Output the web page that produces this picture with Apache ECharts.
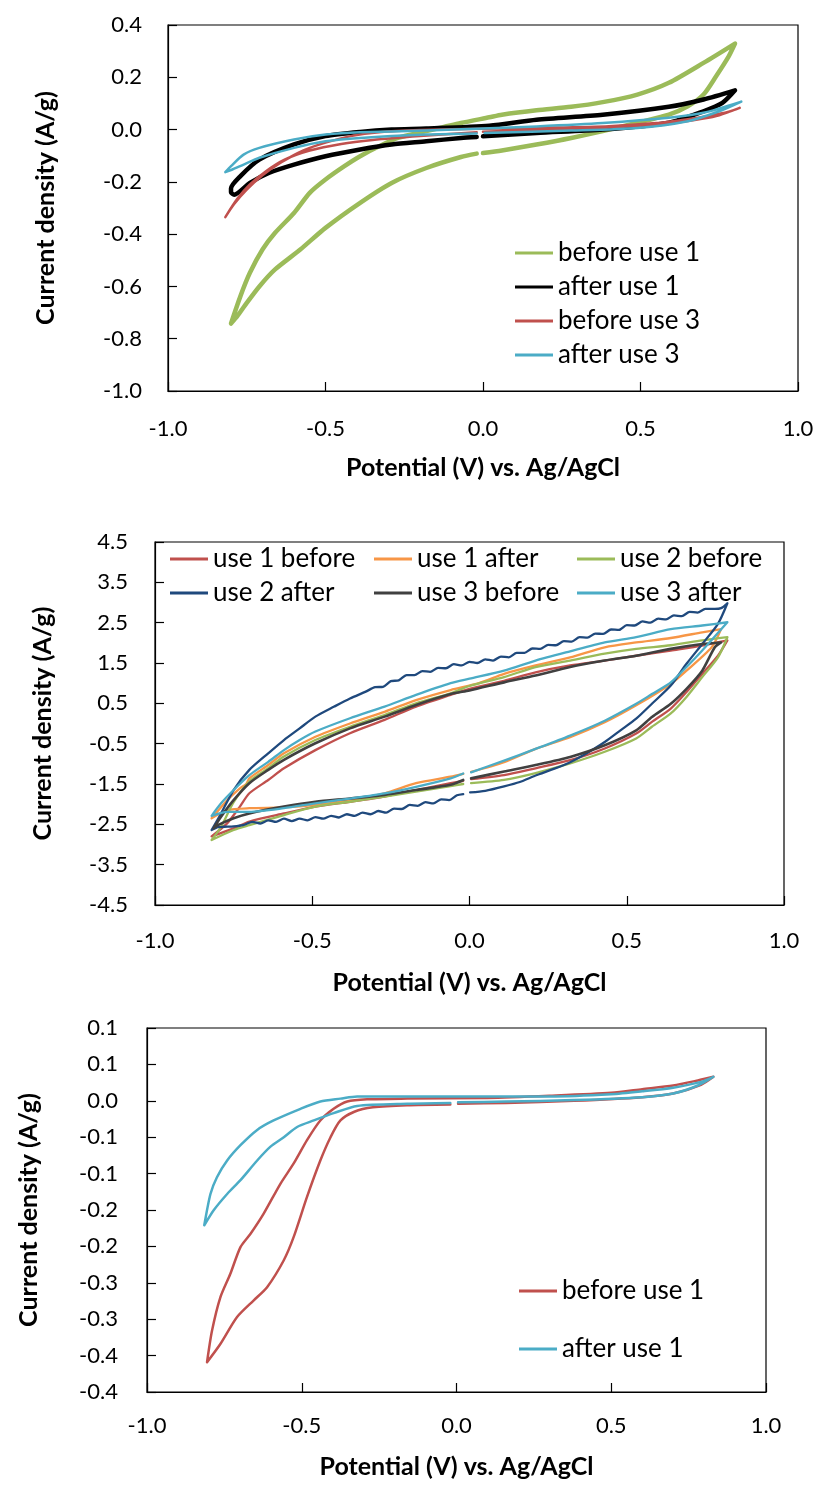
<!DOCTYPE html>
<html>
<head>
<meta charset="utf-8">
<script src="https://cdn.jsdelivr.net/npm/echarts@6/dist/echarts.min.js"></script>
<style>
  html, body { margin: 0; padding: 0; background: #fff; }
  .panel { position: absolute; left: 0; width: 819px; }
  #cv1 { top: 0; height: 500px; }
  #cv2 { top: 500px; height: 510px; }
  #cv3 { top: 1000px; height: 486px; }
</style>
</head>
<body>
<div id="cv1" class="panel"></div>
<div id="cv2" class="panel"></div>
<div id="cv3" class="panel"></div>
<script>
// ---------- Panel 1: cyclic voltammograms, uses 1 and 3 ----------
const p1Names = ['before use 1', 'after use 1', 'before use 3', 'after use 3'];
const p1BeforeUse1 = [
  [-0.02,-0.092],[-0.07,-0.105],[-0.18,-0.147],[-0.29,-0.204],[-0.39,-0.28],[-0.5,-0.376],[-0.58,-0.459],
  [-0.66,-0.535],[-0.71,-0.6],[-0.75,-0.663],[-0.78,-0.714],[-0.80,-0.742],
  [-0.77,-0.637],[-0.74,-0.548],[-0.70,-0.459],[-0.66,-0.395],[-0.60,-0.319],[-0.55,-0.242],[-0.50,-0.191],
  [-0.44,-0.14],[-0.39,-0.102],[-0.33,-0.064],[-0.27,-0.032],[-0.18,-0.006],[-0.07,0.025],[0.02,0.047],
  [0.06,0.057],[0.17,0.074],[0.28,0.087],[0.38,0.105],[0.49,0.134],[0.59,0.179],[0.70,0.255],[0.80,0.329],
  [0.78,0.28],[0.74,0.204],[0.70,0.134],[0.65,0.089],[0.59,0.057],[0.49,0.026],[0.38,-0.006],[0.28,-0.032],
  [0.17,-0.057],[0.06,-0.08],[0.0,-0.09]
];
const p1AfterUse1 = [
  [-0.02,-0.028],[-0.07,-0.032],[-0.18,-0.045],[-0.29,-0.057],[-0.39,-0.076],[-0.5,-0.102],[-0.6,-0.134],
  [-0.68,-0.166],[-0.74,-0.204],[-0.79,-0.249],[-0.80,-0.24],
  [-0.80,-0.225],[-0.77,-0.178],[-0.71,-0.115],[-0.6,-0.057],[-0.5,-0.025],[-0.39,-0.009],[-0.29,0.0],
  [-0.18,0.004],[0.02,0.015],[0.17,0.038],[0.38,0.057],[0.59,0.087],[0.70,0.115],[0.80,0.150],
  [0.76,0.102],[0.70,0.070],[0.59,0.026],[0.38,0.0],[0.17,-0.013],[0.0,-0.026]
];
const p1BeforeUse3 = [
  [-0.02,-0.01],[-0.2,-0.025],[-0.35,-0.04],[-0.45,-0.055],[-0.55,-0.08],[-0.63,-0.115],[-0.69,-0.16],
  [-0.74,-0.21],[-0.78,-0.265],[-0.818,-0.335],
  [-0.79,-0.285],[-0.75,-0.23],[-0.70,-0.175],[-0.64,-0.125],[-0.57,-0.08],[-0.50,-0.05],[-0.42,-0.025],
  [-0.33,-0.01],[-0.2,-0.002],[0.0,0.003],[0.2,0.007],[0.4,0.013],[0.55,0.025],[0.65,0.04],[0.72,0.053],
  [0.78,0.068],[0.815,0.083],
  [0.75,0.055],[0.70,0.042],[0.60,0.024],[0.40,0.008],[0.2,0.0],[0.0,-0.008]
];
const p1AfterUse3 = [
  [-0.02,-0.015],[-0.18,-0.019],[-0.39,-0.032],[-0.5,-0.045],[-0.6,-0.07],[-0.71,-0.108],[-0.76,-0.134],
  [-0.80,-0.155],[-0.818,-0.163],
  [-0.80,-0.14],[-0.76,-0.096],[-0.71,-0.07],[-0.6,-0.038],[-0.5,-0.019],[-0.39,-0.01],[-0.18,-0.004],
  [0.0,0.004],[0.17,0.012],[0.38,0.025],[0.59,0.045],[0.70,0.064],[0.82,0.107],
  [0.75,0.070],[0.65,0.032],[0.49,0.006],[0.28,-0.004],[0.005,-0.013]
];
const p1YTicks = { min: -1.0, max: 0.4, step: 0.2 };

// ---------- Panel 2: six voltammograms, uses 1-3 ----------
const p2Names = ['use 1 before', 'use 1 after', 'use 2 before', 'use 2 after', 'use 3 before', 'use 3 after'];
const p2Use1Before = [
  [-0.02,-1.42],[-0.06,-1.48],[-0.17,-1.65],[-0.27,-1.81],[-0.38,-1.94],[-0.49,-2.06],[-0.59,-2.23],
  [-0.70,-2.43],[-0.75,-2.60],[-0.82,-2.80],
  [-0.77,-2.47],[-0.73,-2.06],[-0.70,-1.73],[-0.64,-1.40],[-0.59,-1.11],[-0.49,-0.66],[-0.38,-0.24],
  [-0.27,0.09],[-0.17,0.42],[-0.06,0.71],[0.0,0.86],[0.11,1.06],[0.21,1.27],[0.32,1.44],[0.43,1.56],
  [0.53,1.68],[0.64,1.81],[0.74,1.93],[0.82,2.06],
  [0.79,1.68],[0.74,1.23],[0.69,0.78],[0.64,0.37],[0.58,0.04],[0.53,-0.25],[0.43,-0.62],[0.32,-0.91],
  [0.21,-1.11],[0.11,-1.28],[0.005,-1.38]
];
const p2Use1After = [
  [-0.02,-1.25],[-0.06,-1.32],[-0.17,-1.48],[-0.27,-1.73],[-0.38,-1.90],[-0.49,-2.02],[-0.59,-2.08],
  [-0.70,-2.10],[-0.77,-2.15],[-0.82,-2.35],
  [-0.77,-1.90],[-0.73,-1.61],[-0.71,-1.50],[-0.70,-1.36],[-0.64,-1.03],[-0.59,-0.74],[-0.49,-0.33],
  [-0.38,0.0],[-0.27,0.29],[-0.17,0.58],[-0.06,0.83],[0.03,1.0],[0.11,1.23],[0.21,1.44],[0.32,1.64],
  [0.43,1.89],[0.53,2.01],[0.64,2.12],[0.74,2.26],[0.80,2.34],
  [0.77,1.89],[0.69,1.31],[0.64,0.98],[0.53,0.45],[0.43,0.03],[0.32,-0.34],[0.21,-0.63],[0.11,-0.96],
  [0.005,-1.20]
];
const p2Use2Before = [
  [-0.02,-1.50],[-0.06,-1.55],[-0.17,-1.69],[-0.27,-1.81],[-0.38,-1.94],[-0.49,-2.06],[-0.59,-2.27],
  [-0.70,-2.52],[-0.75,-2.64],[-0.82,-2.89],
  [-0.79,-2.56],[-0.75,-1.95],[-0.70,-1.44],[-0.64,-1.11],[-0.59,-0.82],[-0.49,-0.41],[-0.38,-0.08],
  [-0.27,0.21],[-0.17,0.50],[-0.06,0.75],[0.0,0.93],[0.11,1.15],[0.21,1.40],[0.32,1.56],[0.43,1.73],
  [0.53,1.85],[0.64,1.94],[0.74,2.06],[0.82,2.14],
  [0.79,1.64],[0.74,1.15],[0.69,0.66],[0.64,0.25],[0.58,-0.08],[0.53,-0.37],[0.43,-0.70],[0.32,-0.99],
  [0.21,-1.23],[0.11,-1.40],[0.005,-1.48]
];
const p2Use2After = [
  [-0.02,-1.75],[-0.04,-1.78],[-0.065,-1.90],[-0.09,-1.88],[-0.115,-1.98],[-0.14,-1.95],[-0.165,-2.04],
  [-0.19,-2.02],[-0.215,-2.12],[-0.24,-2.11],[-0.265,-2.21],[-0.29,-2.17],[-0.315,-2.25],[-0.34,-2.21],
  [-0.365,-2.29],[-0.39,-2.25],[-0.415,-2.33],[-0.44,-2.29],[-0.465,-2.36],[-0.49,-2.32],[-0.515,-2.40],
  [-0.54,-2.36],[-0.565,-2.42],[-0.59,-2.36],[-0.615,-2.44],[-0.64,-2.40],[-0.665,-2.48],[-0.69,-2.44],
  [-0.72,-2.52],[-0.75,-2.55],[-0.78,-2.56],[-0.80,-2.57],[-0.82,-2.64],
  [-0.79,-2.23],[-0.75,-1.65],[-0.70,-1.15],[-0.64,-0.74],[-0.59,-0.41],[-0.54,-0.12],[-0.49,0.17],
  [-0.43,0.42],[-0.38,0.62],[-0.33,0.79],[-0.30,0.90],[-0.275,0.91],[-0.25,1.05],[-0.225,1.07],
  [-0.20,1.20],[-0.175,1.20],[-0.15,1.30],[-0.125,1.28],[-0.10,1.38],[-0.075,1.37],[-0.05,1.47],
  [-0.025,1.44],[0.0,1.53],[0.025,1.50],[0.05,1.59],[0.075,1.56],[0.10,1.66],[0.125,1.64],[0.15,1.75],
  [0.175,1.75],[0.20,1.86],[0.225,1.85],[0.25,1.95],[0.275,1.94],[0.30,2.04],[0.325,2.03],[0.35,2.14],
  [0.375,2.13],[0.40,2.23],[0.425,2.22],[0.45,2.33],[0.475,2.32],[0.50,2.44],[0.525,2.43],[0.55,2.53],
  [0.575,2.50],[0.60,2.60],[0.625,2.58],[0.65,2.68],[0.675,2.66],[0.70,2.77],[0.725,2.75],[0.75,2.84],
  [0.78,2.84],[0.80,2.86],[0.82,2.98],
  [0.79,2.47],[0.74,1.97],[0.69,1.48],[0.64,0.94],[0.58,0.49],[0.53,0.12],[0.48,-0.17],[0.43,-0.46],
  [0.37,-0.75],[0.32,-0.96],[0.27,-1.12],[0.21,-1.29],[0.16,-1.45],[0.11,-1.56],[0.05,-1.67],[0.002,-1.71]
];
const p2Use3Before = [
  [-0.02,-1.40],[-0.06,-1.52],[-0.17,-1.65],[-0.27,-1.77],[-0.38,-1.86],[-0.49,-1.94],[-0.59,-2.06],
  [-0.70,-2.23],[-0.75,-2.35],[-0.80,-2.52],[-0.814,-2.60],
  [-0.79,-2.31],[-0.75,-1.90],[-0.70,-1.48],[-0.64,-1.15],[-0.59,-0.90],[-0.49,-0.49],[-0.38,-0.12],
  [-0.27,0.17],[-0.17,0.46],[-0.06,0.73],[0.0,0.82],[0.11,1.02],[0.21,1.19],[0.32,1.40],[0.43,1.56],
  [0.53,1.68],[0.64,1.85],[0.74,1.97],[0.80,2.01],
  [0.78,1.89],[0.74,1.31],[0.69,0.86],[0.64,0.49],[0.58,0.16],[0.53,-0.17],[0.43,-0.54],[0.32,-0.83],
  [0.21,-1.03],[0.11,-1.19],[0.005,-1.36]
];
const p2Use3After = [
  [-0.02,-1.24],[-0.06,-1.36],[-0.17,-1.57],[-0.27,-1.73],[-0.38,-1.86],[-0.49,-1.98],[-0.59,-2.10],
  [-0.70,-2.19],[-0.77,-2.19],[-0.82,-2.29],
  [-0.79,-1.98],[-0.75,-1.65],[-0.70,-1.28],[-0.64,-0.95],[-0.59,-0.66],[-0.54,-0.41],[-0.49,-0.20],
  [-0.38,0.13],[-0.27,0.42],[-0.17,0.71],[-0.06,1.00],[0.0,1.11],[0.11,1.31],[0.21,1.56],[0.32,1.79],
  [0.43,2.01],[0.53,2.14],[0.64,2.34],[0.74,2.43],[0.82,2.51],
  [0.74,1.81],[0.69,1.40],[0.64,1.02],[0.58,0.73],[0.53,0.49],[0.43,0.07],[0.32,-0.30],[0.21,-0.63],
  [0.11,-0.92],[0.005,-1.21]
];
const p2YTicks = { min: -4.5, max: 4.5, step: 1 };

// ---------- Panel 3: voltammograms, use 1 ----------
const p3Names = ['before use 1', 'after use 1'];
const p3BeforeUse1 = [
  [-0.02,-0.005],[-0.16,-0.006],[-0.27,-0.009],[-0.33,-0.015],[-0.375,-0.027],[-0.407,-0.050],
  [-0.44,-0.082],[-0.483,-0.132],[-0.526,-0.187],[-0.558,-0.219],[-0.612,-0.256],[-0.655,-0.274],
  [-0.709,-0.297],[-0.763,-0.334],[-0.806,-0.359],
  [-0.79,-0.316],[-0.763,-0.270],[-0.731,-0.238],[-0.698,-0.201],[-0.666,-0.183],[-0.623,-0.155],
  [-0.569,-0.114],[-0.526,-0.086],[-0.483,-0.054],[-0.44,-0.027],[-0.397,-0.011],[-0.353,-0.001],
  [-0.289,0.002],[-0.159,0.003],[0.1,0.004],[0.3,0.007],[0.5,0.011],[0.6,0.016],[0.7,0.021],
  [0.78,0.028],[0.83,0.033],
  [0.79,0.022],[0.70,0.010],[0.60,0.005],[0.38,0.0],[0.16,-0.003],[0.005,-0.004]
];
const p3AfterUse1 = [
  [-0.02,-0.003],[-0.159,-0.004],[-0.321,-0.007],[-0.397,-0.017],[-0.461,-0.027],[-0.515,-0.036],
  [-0.558,-0.050],[-0.601,-0.063],[-0.644,-0.082],[-0.698,-0.109],[-0.741,-0.128],[-0.784,-0.150],
  [-0.815,-0.171],
  [-0.795,-0.128],[-0.774,-0.105],[-0.741,-0.082],[-0.698,-0.061],[-0.644,-0.040],[-0.591,-0.027],
  [-0.504,-0.011],[-0.44,-0.001],[-0.375,0.003],[-0.321,0.006],[-0.159,0.006],[0.045,0.006],
  [0.3,0.006],[0.5,0.009],[0.6,0.013],[0.7,0.018],[0.79,0.026],[0.83,0.033],
  [0.78,0.021],[0.70,0.010],[0.60,0.005],[0.38,0.001],[0.16,-0.001],[0.005,-0.002]
];
const p3YTicks = { min: -0.4, max: 0.1, step: 0.05 };

const xTicks = { min: -1.0, max: 1.0, step: 0.5 };
const xTitle = 'Potential (V) vs. Ag/AgCl';
const yTitle = 'Current density (A/g)';

// ---------- shared styling ----------
const FONT = 'Lato, "Liberation Sans", sans-serif';
const AXIS_COLOR = '#000';
const C = {
  red: '#C0504D', green: '#9BBB59', cyan: '#4BACC6', orange: '#F79646',
  navy: '#1F497D', grey: '#404040', black: '#000000'
};

// one-decimal labels, halves rounded away from zero
function oneDecimal(v) {
  const r = Math.round(Math.abs(v) * 10 + 1e-9) / 10;
  return (v < 0 && r !== 0 ? '-' : '') + r.toFixed(1);
}

function line(name, data, color, width) {
  return {
    type: 'line', name, data, color,
    showSymbol: false, symbol: 'none', smooth: 0.25,
    lineStyle: { color, width, cap: 'round', join: 'round' },
    animation: false
  };
}

function axes(grid, yt, opts) {
  return {
    grid: Object.assign({ show: true, borderColor: AXIS_COLOR, borderWidth: 1.2, backgroundColor: 'transparent' }, grid),
    xAxis: {
      type: 'value', min: xTicks.min, max: xTicks.max, interval: xTicks.step,
      name: xTitle, nameLocation: 'middle', nameGap: opts.xNameGap,
      nameTextStyle: { fontFamily: FONT, fontWeight: 'bold', fontSize: 25, color: '#000' },
      axisLine: { show: true, onZero: false, lineStyle: { color: AXIS_COLOR, width: 1.2 } },
      axisTick: { show: true, inside: true, length: 9, lineStyle: { color: AXIS_COLOR, width: 1.2 } },
      axisLabel: { fontFamily: FONT, fontSize: 22, color: '#000', margin: opts.xLabelMargin, formatter: v => v.toFixed(1) },
      splitLine: { show: false }
    },
    yAxis: {
      type: 'value', min: yt.min, max: yt.max, interval: yt.step,
      name: yTitle, nameLocation: 'middle', nameGap: opts.yNameGap, nameRotate: 90,
      nameTextStyle: { fontFamily: FONT, fontWeight: 'bold', fontSize: 25, color: '#000' },
      axisLine: { show: true, onZero: false, lineStyle: { color: AXIS_COLOR, width: 1.2 } },
      axisTick: { show: true, inside: true, length: 9, lineStyle: { color: AXIS_COLOR, width: 1.2 } },
      axisLabel: { fontFamily: FONT, fontSize: 22, color: '#000', margin: opts.yLabelMargin, formatter: oneDecimal },
      splitLine: { show: false }
    }
  };
}

function legend(names, left, top, gap) {
  return {
    orient: 'vertical', left, top, data: names, selectedMode: false,
    icon: 'rect', itemWidth: 38, itemHeight: 3, itemGap: gap,
    textStyle: { fontFamily: FONT, fontSize: 26, lineHeight: 26, color: '#000', padding: [0, 0, 0, 0] }
  };
}

// Panel 1
const chart1 = echarts.init(document.getElementById('cv1'), null, { renderer: 'canvas' });
chart1.setOption(Object.assign(
  axes({ left: 168, top: 25, width: 630, height: 366 }, p1YTicks, { xNameGap: 64, xLabelMargin: 27, yNameGap: 110, yLabelMargin: 26 }),
  {
    backgroundColor: '#fff',
    legend: legend(p1Names, 510, 235, 8),
    series: [
      line(p1Names[0], p1BeforeUse1, C.green, 4.5),
      line(p1Names[1], p1AfterUse1, C.black, 4.5),
      line(p1Names[2], p1BeforeUse3, C.red, 2.5),
      line(p1Names[3], p1AfterUse3, C.cyan, 2.5)
    ]
  }
));

// Panel 2
const chart2 = echarts.init(document.getElementById('cv2'), null, { renderer: 'canvas' });
chart2.setOption(Object.assign(
  axes({ left: 155, top: 42, width: 629, height: 363 }, p2YTicks, { xNameGap: 65, xLabelMargin: 25, yNameGap: 100, yLabelMargin: 27 }),
  {
    backgroundColor: '#fff',
    legend: [
      legend([p2Names[0], p2Names[3]], 165, 41, 8),
      legend([p2Names[1], p2Names[4]], 369, 41, 8),
      legend([p2Names[2], p2Names[5]], 572, 41, 8)
    ],
    series: [
      line(p2Names[0], p2Use1Before, C.red, 2.3),
      line(p2Names[1], p2Use1After, C.orange, 2.3),
      line(p2Names[2], p2Use2Before, C.green, 2.3),
      line(p2Names[3], p2Use2After, C.navy, 2.3),
      line(p2Names[4], p2Use3Before, C.grey, 2.6),
      line(p2Names[5], p2Use3After, C.cyan, 2.3)
    ]
  }
));

// Panel 3
const chart3 = echarts.init(document.getElementById('cv3'), null, { renderer: 'canvas' });
chart3.setOption(Object.assign(
  axes({ left: 147, top: 28, width: 619, height: 364 }, p3YTicks, { xNameGap: 62, xLabelMargin: 23, yNameGap: 106, yLabelMargin: 29 }),
  {
    backgroundColor: '#fff',
    legend: legend(p3Names, 514, 273, 32),
    series: [
      line(p3Names[0], p3BeforeUse1, C.red, 2.5),
      line(p3Names[1], p3AfterUse1, C.cyan, 2.5)
    ]
  }
));
</script>
</body>
</html>
